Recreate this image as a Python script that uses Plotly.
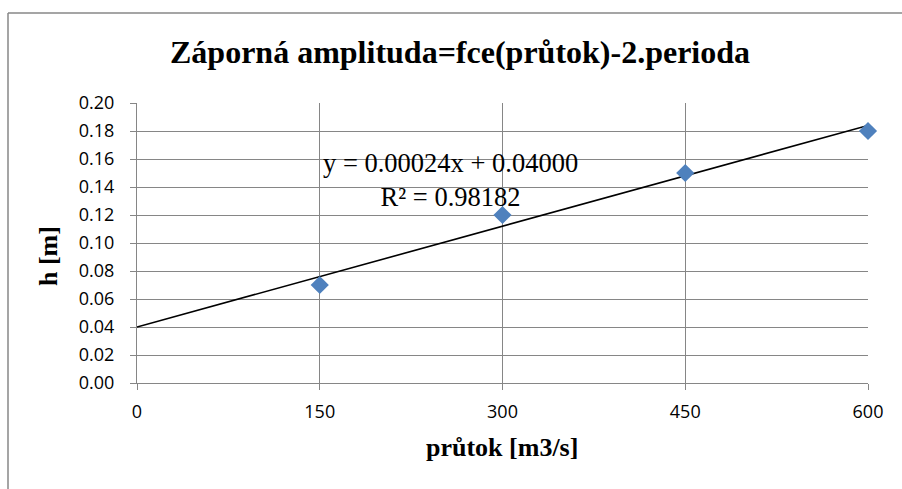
import numpy as np
import plotly.graph_objects as go

# Measured flow rates and negative amplitudes (2nd period)
prutok = [150, 300, 450, 600]
amplituda = [0.07, 0.12, 0.15, 0.18]

x_ticks = [0, 150, 300, 450, 600]
y_ticks = [0.00, 0.02, 0.04, 0.06, 0.08, 0.10, 0.12, 0.14, 0.16, 0.18, 0.20]

# Linear least-squares trendline
slope, intercept = np.polyfit(prutok, amplituda, 1)
pred = slope * np.array(prutok) + intercept
ss_res = np.sum((np.array(amplituda) - pred) ** 2)
ss_tot = np.sum((np.array(amplituda) - np.mean(amplituda)) ** 2)
r2 = 1 - ss_res / ss_tot
trend_x = [x_ticks[0], x_ticks[-1]]
trend_y = [slope * v + intercept for v in trend_x]

W, H = 902, 489
L, R, T, B = 137, 34, 103, 106
pw, ph = W - L - R, H - T - B

GRID = "#868686"
TICKFONT = dict(family="Open Sans", size=18, color="#000000")
SERIF = "Liberation Serif, Times New Roman, serif"

fig = go.Figure()
fig.add_trace(go.Scatter(
    x=trend_x, y=trend_y, mode="lines",
    line=dict(color="#000000", width=1.6),
    hoverinfo="skip", showlegend=False,
))
fig.add_trace(go.Scatter(
    x=prutok, y=amplituda, mode="markers",
    marker=dict(symbol="diamond", size=14, color="#4F81BD",
                line=dict(width=0)),
    cliponaxis=False, showlegend=False,
))

fig.update_xaxes(
    range=[0, 600], tickvals=x_ticks, ticktext=[str(v) for v in x_ticks],
    showgrid=True, gridcolor=GRID, gridwidth=1,
    showline=True, linecolor=GRID, linewidth=1,
    ticks="outside", ticklen=6, tickcolor=GRID, tickwidth=1,
    tickfont=TICKFONT, zeroline=False, ticklabelstandoff=6,
)
fig.update_yaxes(
    range=[0, 0.2], tickvals=y_ticks, ticktext=[f"{v:.2f}" for v in y_ticks],
    showgrid=True, gridcolor=GRID, gridwidth=1,
    showline=True, linecolor=GRID, linewidth=1, mirror=False,
    ticks="outside", ticklen=6, tickcolor=GRID, tickwidth=1,
    tickfont=TICKFONT, zeroline=False, ticklabelstandoff=12,
)

annotations = [
    dict(text="Záporná amplituda=fce(průtok)-2.perioda",
         xref="paper", yref="paper",
         x=(460 - L) / pw, y=(H - B - 52) / ph,
         xanchor="center", yanchor="middle", showarrow=False,
         font=dict(family=SERIF, size=32, color="#000000", weight="bold")),
    dict(text="průtok [m3/s]",
         xref="paper", yref="paper",
         x=(502 - L) / pw, y=(H - B - 447) / ph,
         xanchor="center", yanchor="middle", showarrow=False,
         font=dict(family=SERIF, size=26, color="#000000", weight="bold")),
    dict(text="h [m]", textangle=-90,
         xref="paper", yref="paper",
         x=(48 - L) / pw, y=(H - B - 256) / ph,
         xanchor="center", yanchor="middle", showarrow=False,
         font=dict(family=SERIF, size=26, color="#000000", weight="bold")),
    dict(text=f"y = {slope:.5f}x + {intercept:.5f}<br>R² = {r2:.5f}",
         xref="x", yref="y", x=257, y=0.145,
         xanchor="center", yanchor="middle", showarrow=False, align="center",
         font=dict(family=SERIF, size=26.5, color="#000000")),
]

# Outer chart frame: only its left and top edges fall inside the page
FRAME = dict(color="#878787", width=1.5)
shapes = [
    dict(type="line", xref="paper", yref="paper",
         x0=(8 - L) / pw, x1=(8 - L) / pw,
         y0=(H - B - (H + 20)) / ph, y1=(H - B - 13) / ph,
         line=FRAME, layer="below"),
    dict(type="line", xref="paper", yref="paper",
         x0=(8 - L) / pw, x1=(W + 20 - L) / pw,
         y0=(H - B - 13) / ph, y1=(H - B - 13) / ph,
         line=FRAME, layer="below"),
]

fig.update_layout(
    width=W, height=H, margin=dict(l=L, r=R, t=T, b=B, pad=0),
    paper_bgcolor="#ffffff", plot_bgcolor="#ffffff",
    annotations=annotations, shapes=shapes,
)

fig.write_html("out.html")
